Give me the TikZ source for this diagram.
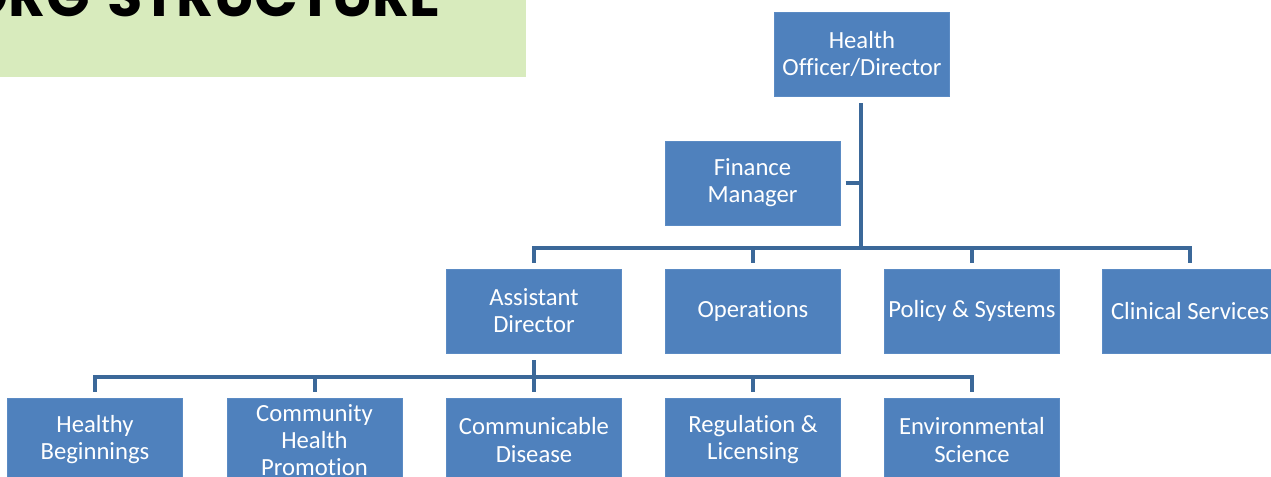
\documentclass[tikz,border=0pt]{standalone}
\usepackage{fontspec}
\setmainfont{Carlito}[Ligatures=NoCommon]
\newfontfamily\titlefont{Poppins}
\definecolor{boxblue}{HTML}{4F81BD}
\definecolor{boxedge}{HTML}{5B8BC4}
\definecolor{connblue}{HTML}{3B6899}
\definecolor{titlegreen}{HTML}{D8EBBD}
\newlength\ttlw
\settowidth\ttlw{\titlefont\bfseries\fontsize{40}{40}\selectfont STRUCTURE}
\pgfmathsetmacro\ttlfs{40*249.75/\ttlw}
\tikzset{
  orgbox/.style={rectangle, fill=boxblue, draw=boxedge, line width=0.5pt,
    minimum width=131.25pt, minimum height=63pt, inner sep=1pt,
    align=center, text=white, font=\fontsize{18.5}{20.3}\selectfont},
  conn/.style={draw=connblue, line width=3pt, line cap=butt, line join=miter},
  titletext/.style={anchor=base east, inner sep=0pt, font=\titlefont\bfseries\fontsize{\ttlfs}{\ttlfs}\selectfont},
}
\begin{document}
\begin{tikzpicture}[x=0.75pt, y=-0.75pt]
\useasboundingbox (0,0) rectangle (1271,476);
\clip (0,0) rectangle (1271,476);
\fill[white] (0,0) rectangle (1271,476);
% title banner
\fill[titlegreen] (0,0) rectangle (526,77);
\node[titletext] (title1) at (90,16) {ORG};
\node[titletext] (title2) at (441,16) {STRUCTURE};
% level 1
\node[orgbox] (hod) at (862,54) {Health\\Officer/Director};
\node[orgbox] (fm) at (752.5,183) {Finance\\Manager};
% level 2
\node[orgbox] (ad) at (534,311) {Assistant\\Director};
\node[orgbox] (ops) at (753,311) {Operations};
\node[orgbox] (ps) at (972,311) {Policy \& Systems};
\node[orgbox] (cs) at (1190,311) {Clinical Services};
% level 3
\node[orgbox] (hb) at (95,440) {Healthy\\Beginnings};
\node[orgbox] (chp) at (314.5,440) {Community\\Health\\Promotion};
\node[orgbox] (cd) at (534,440) {Communicable\\Disease};
\node[orgbox] (rl) at (753,440) {Regulation \&\\Licensing};
\node[orgbox] (es) at (972,440) {Environmental\\Science};
% junctions
\coordinate (j1) at (861,248);
\coordinate (j2) at (534,377);
% connectors level 1-2
\draw[conn] ([yshift=-5.25pt]hod.south -| j1) -- (j1);
\draw[conn] ([xshift=4pt]fm.east) -- (fm.east -| j1);
\draw[conn] ([yshift=4.5pt]ad.north) |- (j1) -| ([yshift=4.5pt]cs.north);
\draw[conn] ([yshift=4.5pt]ops.north) -- (ops.north |- j1);
\draw[conn] ([yshift=4.5pt]ps.north) -- (ps.north |- j1);
% connectors level 2-3
\draw[conn] ([yshift=-5.25pt]ad.south) -- (j2);
\draw[conn] ([yshift=4.5pt]hb.north) |- (j2) -| ([yshift=4.5pt]es.north);
\draw[conn] ([yshift=4.5pt]chp.north) -- (chp.north |- j2);
\draw[conn] ([yshift=4.5pt]cd.north) -- (cd.north |- j2);
\draw[conn] ([yshift=4.5pt]rl.north) -- (rl.north |- j2);
\end{tikzpicture}
\end{document}
